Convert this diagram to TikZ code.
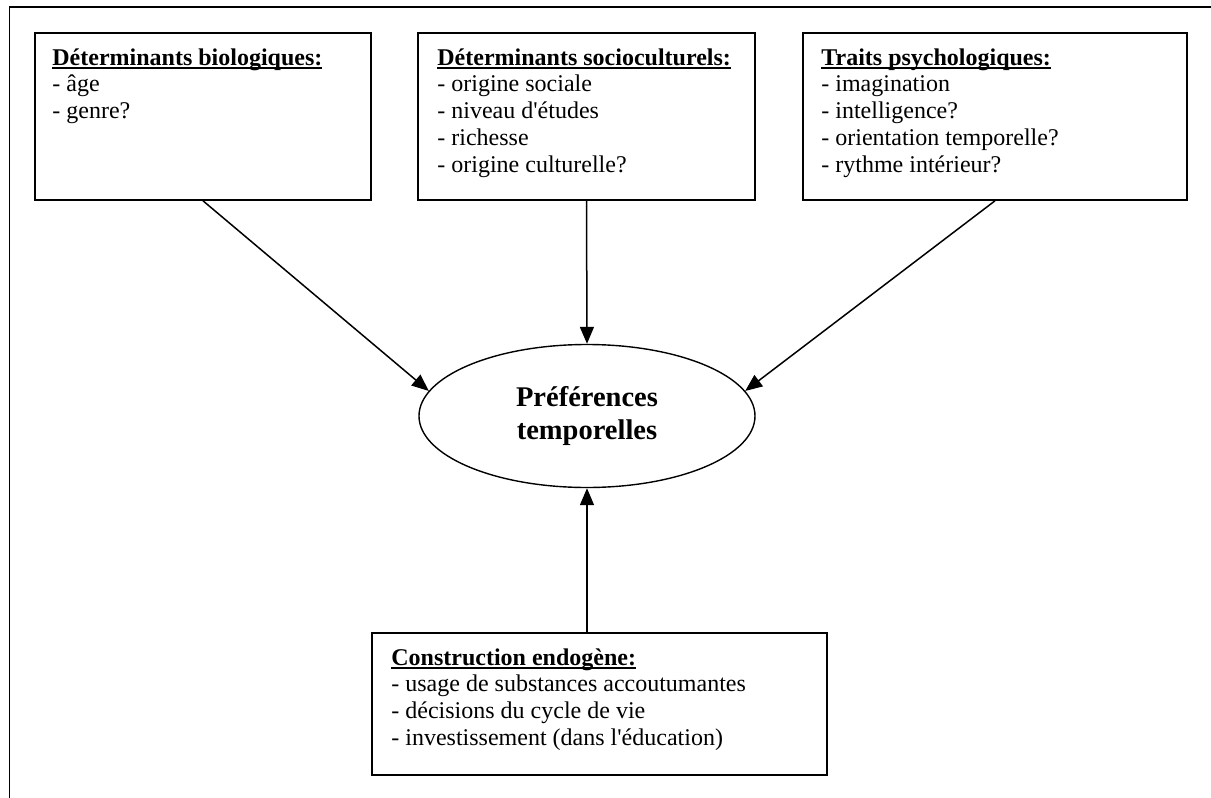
\documentclass[tikz,border=0pt]{standalone}
\usepackage{fontspec}
\setmainfont{Liberation Serif}
\usetikzlibrary{arrows.meta,shapes.geometric}
\newcommand\hdul[1]{\setbox0\hbox{#1}\rlap{\rule[-3.5pt]{\wd0}{1.7pt}}\box0}
\tikzset{
  box/.style={draw, line width=1.6pt, rectangle, inner sep=0pt, minimum height=167pt},
  txt/.style={anchor=north west, inner sep=0pt, align=left, font=\fontsize{24}{26.8}\selectfont},
  ell/.style={draw, line width=1.4pt, ellipse, inner sep=0pt, minimum width=336pt, minimum height=143pt, align=center, font=\fontsize{28.5}{33}\selectfont\bfseries},
  arr/.style={line width=1.5pt, -{Triangle[length=17pt,width=14pt]}},
  frame/.style={line width=1.8pt}
}
\begin{document}
\begin{tikzpicture}[x=1pt,y=-1pt]
\useasboundingbox (0,0) rectangle (1211,798);
% outer frame (top and left only)
\coordinate (fr) at (1211,7);
\coordinate (fc) at (9.5,7);
\coordinate (fb) at (9.5,798);
\draw[frame] (fr) -- (fc) -- (fb);
% boxes
\node[box, minimum width=336pt] (b1) at (203,116.5) {};
\node[box, minimum width=337pt] (b2) at (586.5,116.5) {};
\node[box, minimum width=384pt] (b3) at (995,116.5) {};
\node[box, minimum width=455pt, minimum height=142pt] (b4) at (599.5,704) {};
% texts
\node[txt] (t1) at ([shift={(18,16)}]b1.north west) {\hdul{\textbf{Déterminants biologiques:}}\\- âge\\- genre?};
\node[txt] (t2) at ([shift={(20,16)}]b2.north west) {\hdul{\textbf{Déterminants socioculturels:}}\\- origine sociale\\- niveau d\textquotesingle études\\- richesse\\- origine culturelle?};
\node[txt] (t3) at ([shift={(19,16)}]b3.north west) {\hdul{\textbf{Traits psychologiques:}}\\- imagination\\- intelligence?\\- orientation temporelle?\\- rythme intérieur?};
\node[txt] (t4) at ([shift={(20,16)}]b4.north west) {\hdul{\textbf{Construction endogène:}}\\- usage de substances accoutumantes\\- décisions du cycle de vie\\- investissement (dans l\textquotesingle éducation)};
% ellipse
\node[ell] (e) at (587,416) {Préférences\\temporelles};
% arrows
\draw[arr] (b1.south) -- (e.171);
\draw[arr] (b2.south) -- (e.north);
\draw[arr] (b3.south) -- (e.9);
\draw[arr] (b4.north -| e.south) -- (e.south);
\end{tikzpicture}
\end{document}
